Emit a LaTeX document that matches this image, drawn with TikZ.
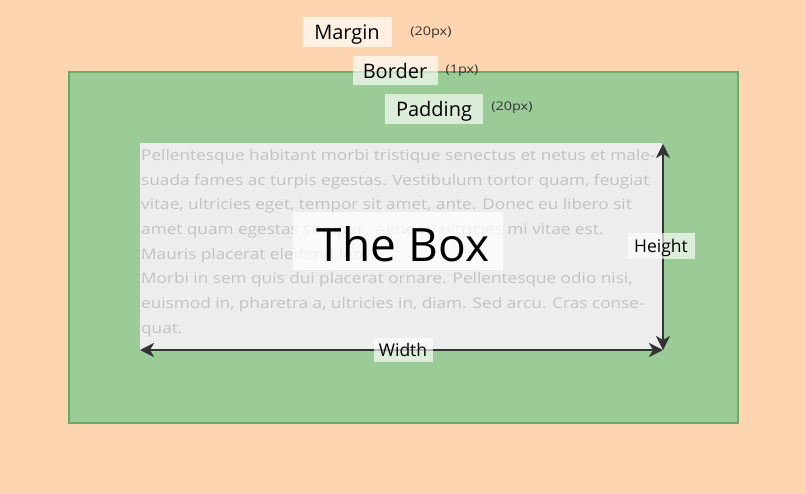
\documentclass[tikz,border=0pt]{standalone}
\usepackage{fontspec}
\setmainfont{Open Sans}
\newfontfamily\widesans[FakeStretch=1.17]{Open Sans}
\newfontfamily\notesans[FakeStretch=1.2]{Open Sans}
\usetikzlibrary{arrows.meta}
\definecolor{peach}{HTML}{FDD5B0}
\definecolor{boxgreen}{HTML}{9BCC97}
\definecolor{bordergreen}{HTML}{68AC62}
\definecolor{contentgray}{HTML}{EDEDED}
\definecolor{loremgray}{HTML}{C2C2C2}
\definecolor{arrowdark}{HTML}{333333}
\tikzset{
  lbl/.style={fill=white, fill opacity=0.65, text opacity=1, inner sep=0pt, text=black, text depth=0pt},
  biglbl/.style={lbl, text height=14.3pt, font=\fontsize{20}{22}\selectfont},
  smalllbl/.style={lbl, text height=12.5pt, font=\fontsize{17.5}{19}\selectfont},
  note/.style={inner sep=0pt, text=black!80, font=\notesans\fontsize{12}{14}\selectfont},
  dim/.style={draw=arrowdark, line width=2.8pt, {Stealth[length=14pt,width=14pt,inset=4pt]}-{Stealth[length=14pt,width=14pt,inset=4pt]}}
}
\begin{document}
\begin{tikzpicture}[x=1pt,y=-1pt]
\fill[peach] (0,0) rectangle (806,494);
\useasboundingbox (0,0) rectangle (806,494);
% border box
\node[draw=bordergreen, line width=2.2pt, fill=boxgreen, minimum width=669pt, minimum height=351pt, inner sep=0pt, anchor=north west] (border) at (68,71) {};
% content box
\node[fill=contentgray, minimum width=522pt, minimum height=207pt, inner sep=0pt, anchor=north west] (content) at (140,143) {};
\node[anchor=north west, inner sep=0pt, align=left, text=loremgray, font=\widesans\fontsize{14.7}{24.7}\selectfont] (lorem) at (141,149) {Pellentesque habitant morbi tristique senectus et netus et male-\\suada fames ac turpis egestas. Vestibulum tortor quam, feugiat\\vitae, ultricies eget, tempor sit amet, ante. Donec eu libero sit\\amet quam egestas semper. Aenean ultricies mi vitae est.\\Mauris placerat eleifend leo.\\Morbi in sem quis dui placerat ornare. Pellentesque odio nisi,\\euismod in, pharetra a, ultricies in, diam. Sed arcu. Cras conse-\\quat.};
% The Box
\node[fill=white, fill opacity=0.75, minimum width=210pt, minimum height=58pt, inner sep=0pt] (theboxbg) at (398,241) {};
\node[inner sep=0pt, anchor=base, text=black, font=\fontsize{46}{50}\selectfont] (thebox) at (403,262) {The Box};
% dimension arrows
\coordinate (tl) at (140,350);
\coordinate (br) at (663,350);
\coordinate (tr) at (663,144);
\draw[dim] (tl) -- (br);
\draw[dim] (tr) -- (br);
\node[smalllbl, minimum width=59pt, minimum height=24pt] (width) at (403,350) {Width};
\node[smalllbl, minimum width=67pt, minimum height=26pt] (height) at (661,246) {Height};
% labels
\node[biglbl, minimum width=89pt, minimum height=30pt] (margin) at (347,32) {Margin};
\node[note] (marginpx) at (431,33) {(20px)};
\node[biglbl, minimum width=85pt, minimum height=29pt] (borderlbl) at (395,71) {Border};
\node[note] (borderpx) at (462,71) {(1px)};
\node[biglbl, minimum width=98pt, minimum height=30pt] (padding) at (434,109) {Padding};
\node[note] (paddingpx) at (512,108) {(20px)};
\end{tikzpicture}
\end{document}
